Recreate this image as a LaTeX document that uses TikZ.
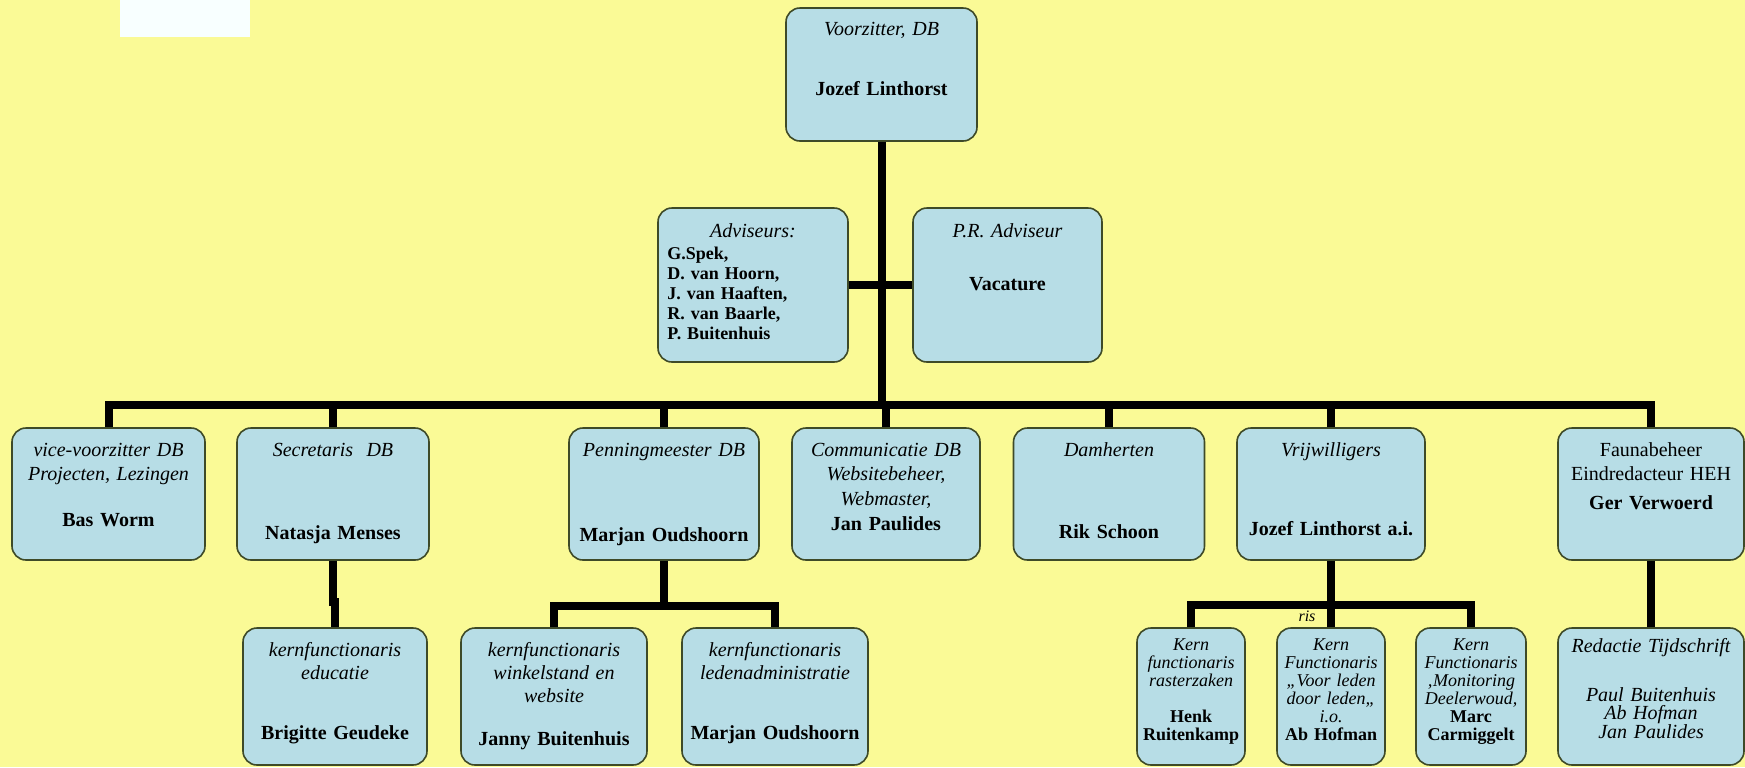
\documentclass[tikz,border=0pt]{standalone}
\usepackage{fontspec}
\setmainfont{Liberation Serif}
\definecolor{bgyellow}{HTML}{FAFA96}
\definecolor{boxfill}{HTML}{B7DDE6}
\definecolor{boxline}{HTML}{3E4A28}
\definecolor{whitish}{HTML}{F8FFFF}
\newcommand{\fa}{\fontsize{10}{12}\selectfont}
\newcommand{\fb}{\fontsize{10}{11.5}\selectfont}
\newcommand{\fc}{\fontsize{10}{12.4}\selectfont}
\newcommand{\fk}{\fontsize{9}{9}\selectfont}
\newcommand{\fl}{\fontsize{9}{10}\selectfont}
\newcommand{\bx}[5]{\node[box, minimum width=#4pt, minimum height=#5pt] (#1) at (#2,#3) {};}
\tikzset{
  box/.style={draw=boxline, line width=0.8pt, fill=boxfill, rounded corners=7pt, inner sep=0pt},
  conn/.style={line width=4pt, line join=miter, draw=black},
  subconn/.style={line width=3.6pt, line join=miter, draw=black},
  lbl/.style={inner sep=0pt, align=center, text width=#1, anchor=base},
  lbl/.default=92pt
}
\begin{document}
\begin{tikzpicture}[x=0.5pt,y=-0.5pt]
\useasboundingbox (0,0) rectangle (1745,767);
\fill[bgyellow] (0,0) rectangle (1745,767);
\fill[whitish] (120,0) rectangle (250,37);

% boxes
\bx{vz}{881.5}{74.5}{95.5}{66.5}
\bx{adv}{753}{285}{95}{77}
\bx{pr}{1007.5}{285}{94.5}{77}
\bx{vice}{108.5}{494}{96.5}{66}
\bx{sec}{333}{494}{96}{66}
\bx{pen}{664}{494}{95}{66}
\bx{com}{886}{494}{94}{66}
\bx{dam}{1109}{494}{95.5}{66}
\bx{vrij}{1331}{494}{94}{66}
\bx{fauna}{1651}{494}{93}{66}
\bx{edu}{335}{696.5}{92}{68.5}
\bx{win}{554}{696.5}{93}{68.5}
\bx{led}{775}{696.5}{93}{68.5}
\bx{henk}{1191}{696.5}{54}{68.5}
\bx{ab}{1331}{696.5}{54}{68.5}
\bx{marc}{1471}{696.5}{55}{68.5}
\bx{red}{1651}{696.5}{93}{68.5}

% connector coordinates
\coordinate (bus) at (881.5,405);
\coordinate (secj) at (333,602);
\coordinate (penbus) at (664,606);
\coordinate (vbus) at (1331,605);

% connectors
\draw[conn] (vz.south) -- (vz.south |- bus);
\draw[conn] (adv.east) -- (pr.west);
\draw[conn] (vice.north) -- (vice.north |- bus) -- (fauna.north |- bus) -- (fauna.north);
\draw[conn] (sec.north) -- (sec.north |- bus);
\draw[conn] (pen.north) -- (pen.north |- bus);
\draw[conn] (com.north) -- (com.north |- bus);
\draw[conn] (dam.north) -- (dam.north |- bus);
\draw[conn] (vrij.north) -- (vrij.north |- bus);
\draw[subconn] (sec.south) -- (sec.south |- secj) -| (edu.north);
\draw[subconn] (pen.south) -- (pen.south |- penbus);
\draw[subconn] (win.north) -- (win.north |- penbus) -- (led.north |- penbus) -- (led.north);
\draw[subconn] (vrij.south) -- (vrij.south |- vbus);
\draw[subconn] (henk.north) -- (henk.north |- vbus) -- (marc.north |- vbus) -- (marc.north);
\draw[subconn] (ab.north) -- (ab.north |- vbus);
\draw[subconn] (fauna.south) -- (red.north);

% texts
\node[lbl, font=\fa\itshape] (vz-t) at (881.5,35) {Voorzitter, DB};
\node[lbl, font=\fa\bfseries] (vz-n) at (881.5,95) {Jozef Linthorst};

\node[lbl, font=\fa\itshape] (adv-t) at (753,237) {Adviseurs:};
\node[inner sep=0pt, anchor=base west, align=left, text width=85pt, font=\fl\bfseries] (adv-n) at (667,259)
  {G.Spek,\\D. van Hoorn,\\J. van Haaften,\\R. van Baarle,\\P. Buitenhuis};

\node[lbl, font=\fa\itshape] (pr-t) at (1007.5,237) {P.R. Adviseur};
\node[lbl, font=\fa\bfseries] (pr-n) at (1007.5,290) {Vacature};

\node[lbl, font=\fa\itshape] (vice-t) at (108.5,456) {vice-voorzitter DB\\Projecten, Lezingen};
\node[lbl, font=\fa\bfseries] (vice-n) at (108.5,526) {Bas Worm};

\node[lbl, font=\fa\itshape] (sec-t) at (333,456) {Secretaris\ \ DB};
\node[lbl, font=\fa\bfseries] (sec-n) at (333,539) {Natasja Menses};

\node[lbl, font=\fa\itshape] (pen-t) at (664,456) {Penningmeester DB};
\node[lbl, font=\fa\bfseries] (pen-n) at (664,541) {Marjan Oudshoorn};

\node[lbl, font=\fc\itshape] (com-t) at (886,456) {Communicatie DB\\Websitebeheer,\\Webmaster,\\{\upshape\bfseries Jan Paulides}};

\node[lbl, font=\fa\itshape] (dam-t) at (1109,456) {Damherten};
\node[lbl, font=\fa\bfseries] (dam-n) at (1109,538) {Rik Schoon};

\node[lbl, font=\fa\itshape] (vrij-t) at (1331,456) {Vrijwilligers};
\node[lbl, font=\fa\bfseries] (vrij-n) at (1331,535) {Jozef Linthorst a.i.};

\node[lbl, font=\fa] (fauna-t) at (1651,456) {Faunabeheer\\Eindredacteur HEH};
\node[lbl, font=\fa\bfseries] (fauna-n) at (1651,509) {Ger Verwoerd};

\node[lbl, font=\fb\itshape] (edu-t) at (335,656) {kernfunctionaris\\educatie};
\node[lbl, font=\fa\bfseries] (edu-n) at (335,739) {Brigitte Geudeke};

\node[lbl, font=\fb\itshape] (win-t) at (554,656) {kernfunctionaris\\winkelstand en\\website};
\node[lbl, font=\fa\bfseries] (win-n) at (554,745) {Janny Buitenhuis};

\node[lbl, font=\fb\itshape] (led-t) at (775,656) {kernfunctionaris\\ledenadministratie};
\node[lbl, font=\fa\bfseries] (led-n) at (775,739) {Marjan Oudshoorn};

\node[lbl=54pt, font=\fk\itshape] (henk-t) at (1191,650)
  {Kern\\functionaris\\rasterzaken\\[9pt]{\upshape\bfseries Henk}\\{\upshape\bfseries Ruitenkamp}};
\node[lbl=54pt, font=\fk\itshape] (ab-t) at (1331,650)
  {Kern\\Functionaris\\„Voor leden\\door leden„\\i.o.\\{\upshape\bfseries Ab Hofman}};
\node[lbl=55pt, font=\fk\itshape] (marc-t) at (1471,650)
  {Kern\\Functionaris\\‚Monitoring\\Deelerwoud,\\{\upshape\bfseries Marc}\\{\upshape\bfseries Carmiggelt}};

\node[lbl, font=\fa\itshape] (red-t) at (1651,652) {Redactie Tijdschrift};
\node[lbl, font=\fontsize{10}{9.3}\selectfont\itshape] (red-n) at (1651,701) {Paul Buitenhuis\\Ab Hofman\\Jan Paulides};

\node[inner sep=0pt, anchor=base, font=\fontsize{8}{8}\selectfont\itshape] (ris) at (1307,621) {ris};
\end{tikzpicture}
\end{document}
